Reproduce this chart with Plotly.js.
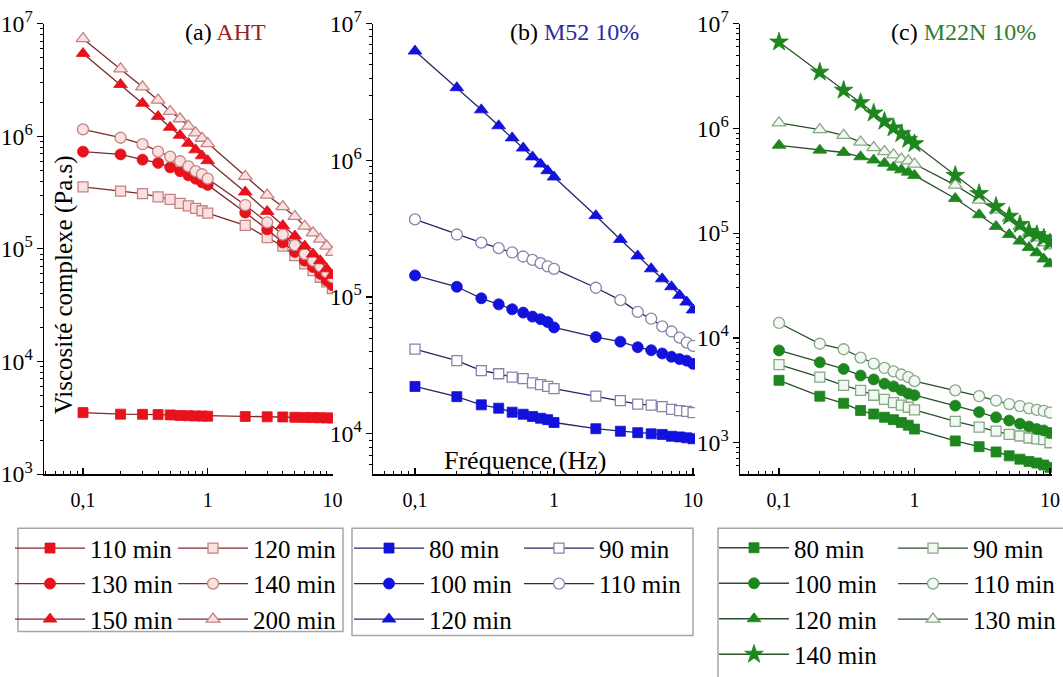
<!DOCTYPE html>
<html>
<head>
<meta charset="utf-8">
<script src="https://cdn.plot.ly/plotly-3.0.1.min.js"></script>
<style>html,body{margin:0;padding:0;background:#fff;}#chart{width:1063px;height:677px;}</style>
</head>
<body>
<div id="chart"></div>
<script>
// Frequency (Hz)
const freq = [0.1,0.2,0.3,0.4,0.5,0.6,0.7,0.8,0.9,1,2,3,4,5,6,7,8,9,10];

// (a) AHT — complex viscosity (Pa.s)
const aht110 = [3520,3410,3400,3380,3360,3320,3300,3290,3280,3270,3250,3230,3220,3200,3190,3180,3170,3160,3150];
const aht120 = [3.55e5,3.26e5,3.10e5,2.90e5,2.75e5,2.54e5,2.41e5,2.29e5,2.18e5,2.08e5,1.62e5,1.26e5,1.06e5,8.7e4,7.35e4,6.4e4,5.6e4,5.1e4,4.45e4];
const aht130 = [7.3e5,6.9e5,6.2e5,5.8e5,5.3e5,4.9e5,4.5e5,4.2e5,3.9e5,3.7e5,2.1e5,1.49e5,1.14e5,9.4e4,7.86e4,6.9e4,6.0e4,5.25e4,4.75e4];
const aht140 = [1.15e6,9.7e5,8.5e5,7.3e5,6.6e5,6.0e5,5.4e5,4.9e5,4.6e5,4.2e5,2.45e5,1.72e5,1.34e5,1.08e5,9.0e4,7.86e4,7.0e4,6.2e4,5.6e4];
const aht150 = [5.43e6,2.88e6,1.96e6,1.5e6,1.2e6,1.02e6,8.65e5,7.57e5,6.7e5,6.07e5,3.2e5,2.15e5,1.61e5,1.3e5,1.06e5,9.0e4,7.85e4,6.65e4,5.8e4];
const aht200 = [7.35e6,3.96e6,2.74e6,2.09e6,1.66e6,1.43e6,1.23e6,1.07e6,9.6e5,8.6e5,4.4e5,3.0e5,2.37e5,1.94e5,1.59e5,1.39e5,1.22e5,1.06e5,9.3e4];

// (b) M52 10%
const m52_80  = [2.22e4,1.87e4,1.63e4,1.54e4,1.44e4,1.39e4,1.34e4,1.30e4,1.27e4,1.21e4,1.09e4,1.045e4,1.02e4,1.0e4,9900,9600,9500,9350,9200];
const m52_90  = [4.16e4,3.43e4,2.9e4,2.75e4,2.6e4,2.53e4,2.36e4,2.29e4,2.22e4,2.14e4,1.89e4,1.75e4,1.65e4,1.62e4,1.58e4,1.51e4,1.48e4,1.46e4,1.43e4];
const m52_100 = [1.44e5,1.19e5,9.8e4,8.85e4,8.15e4,7.7e4,7.2e4,6.9e4,6.57e4,6.0e4,5.1e4,4.72e4,4.3e4,4.09e4,3.87e4,3.66e4,3.52e4,3.43e4,3.25e4];
const m52_110 = [3.7e5,2.87e5,2.5e5,2.28e5,2.12e5,1.98e5,1.87e5,1.77e5,1.68e5,1.61e5,1.17e5,9.5e4,7.8e4,6.95e4,6.1e4,5.6e4,5.05e4,4.65e4,4.4e4];
const m52_120 = [6.3e6,3.4e6,2.34e6,1.79e6,1.46e6,1.23e6,1.06e6,9.4e5,8.4e5,7.55e5,3.94e5,2.64e5,2.0e5,1.61e5,1.36e5,1.19e5,1.03e5,9.2e4,8.05e4];

// (c) M22N 10%
const m22_80  = [3940,2780,2380,2030,1880,1750,1660,1560,1470,1350,1040,917,817,750,697,663,640,613,582];
const m22_90  = [5560,4230,3520,3160,2840,2590,2410,2290,2180,2060,1600,1410,1290,1200,1160,1110,1090,1070,1000];
const m22_100 = [7600,5850,5060,4380,4020,3660,3450,3170,2940,2840,2260,1960,1750,1630,1520,1430,1350,1310,1240];
const m22_110 = [13900,8800,7800,6500,5700,5170,4800,4480,4230,3870,3160,2780,2520,2340,2240,2130,2060,2010,1940];
const m22_120 = [6.9e5,6.2e5,5.89e5,5.36e5,4.99e5,4.64e5,4.26e5,4.02e5,3.82e5,3.56e5,2.14e5,1.5e5,1.16e5,9.7e4,8.4e4,7.3e4,6.5e4,5.66e4,5.1e4];
const m22_130 = [1.13e6,9.75e5,8.57e5,7.4e5,6.56e5,6.0e5,5.6e5,5.1e5,4.9e5,4.57e5,2.87e5,2.07e5,1.67e5,1.39e5,1.16e5,1.0e5,9.0e4,8.1e4,7.55e4];
const m22_140 = [6.67e6,3.44e6,2.31e6,1.76e6,1.4e6,1.17e6,1.01e6,8.9e5,7.85e5,7.15e5,3.56e5,2.39e5,1.8e5,1.45e5,1.21e5,1.04e5,9.7e4,9.0e4,8.1e4];

const W = 1063, H = 677;
const px = v => v / W;
const py = v => 1 - v / H;

const pal = {
  a: {line:'#7d2a2a', fill:'#e8121c', ofill:'#fbe0e0', oline:'#c48282'},
  b: {line:'#262668', fill:'#1212dc', ofill:'#ffffff', oline:'#8585aa'},
  c: {line:'#2c4f2c', fill:'#1d861d', ofill:'#f2f8f2', oline:'#86a886'}
};

function tr(y, name, panel, sym, open, leg, size) {
  const c = pal[panel];
  const ax = {a:['x','y'], b:['x2','y2'], c:['x3','y3']}[panel];
  return {
    x: freq, y: y, name: name, type: 'scatter', mode: 'lines+markers',
    xaxis: ax[0], yaxis: ax[1], legend: leg,
    line: {color: c.line, width: 1.3},
    marker: {symbol: sym, size: size,
      color: open ? c.ofill : c.fill,
      line: {color: open ? c.oline : c.fill, width: open ? 1.3 : 0.8}}
  };
}

const data = [
  tr(aht110,'110 min','a','square',false,'legend',10),
  tr(aht120,'120 min','a','square',true,'legend2',10),
  tr(aht130,'130 min','a','circle',false,'legend',11),
  tr(aht140,'140 min','a','circle',true,'legend2',11),
  tr(aht150,'150 min','a','triangle-up',false,'legend',12),
  tr(aht200,'200 min','a','triangle-up',true,'legend2',12),

  tr(m52_80,'80 min','b','square',false,'legend3',10),
  tr(m52_90,'90 min','b','square',true,'legend4',10),
  tr(m52_100,'100 min','b','circle',false,'legend3',11),
  tr(m52_110,'110 min','b','circle',true,'legend4',11),
  tr(m52_120,'120 min','b','triangle-up',false,'legend3',12),

  tr(m22_80,'80 min','c','square',false,'legend5',10),
  tr(m22_90,'90 min','c','square',true,'legend6',10),
  tr(m22_100,'100 min','c','circle',false,'legend5',11),
  tr(m22_110,'110 min','c','circle',true,'legend6',11),
  tr(m22_120,'120 min','c','triangle-up',false,'legend5',12),
  tr(m22_130,'130 min','c','triangle-up',true,'legend6',12),
  tr(m22_140,'140 min','c','star',false,'legend5',14)
];

const serif = '"Liberation Serif", "Times New Roman", serif';
const ydom = [py(482), py(24)];

function xax(x0, x1, r0, r1, anchor) {
  return {domain:[px(x0), px(x1)], type:'log', range:[r0, r1], anchor: anchor,
    showline:true, linecolor:'#000', linewidth:1.5, showgrid:false, zeroline:false, mirror:false,
    tickmode:'linear', tick0:0, dtick:1, exponentformat:'none',
    ticks:'inside', ticklen:6, tickwidth:1.2, tickcolor:'#000',
    minor:{ticks:'inside', ticklen:3, tickwidth:1, tickcolor:'#000', dtick:'D1', showgrid:false},
    tickfont:{family:serif, size:20, color:'#000'}, ticklabelstandoff:7};
}
function yax(r0, anchor) {
  return {domain: ydom, type:'log', range:[r0, 7], anchor: anchor,
    showline:true, linecolor:'#000', linewidth:1.5, showgrid:false, zeroline:false, mirror:false,
    tickmode:'linear', tick0:0, dtick:1, exponentformat:'power',
    ticks:'outside', ticklen:6, tickwidth:1.2, tickcolor:'#000',
    minor:{ticks:'outside', ticklen:3, tickwidth:1, tickcolor:'#000', dtick:'D1', showgrid:false},
    tickfont:{family:serif, size:19, color:'#000'}};
}

function leg(xText, yTop) {
  return {x: px(xText - 80), y: py(yTop), xanchor:'left', yanchor:'top',
    bgcolor:'rgba(0,0,0,0)', borderwidth:0, itemwidth:70, traceorder:'normal',
    font:{family:serif, size:25, color:'#000'}, itemclick:false, itemdoubleclick:false};
}

const layout = {
  width: W, height: H,
  margin: {l:0, r:0, t:0, b:0},
  paper_bgcolor:'#fff', plot_bgcolor:'rgba(0,0,0,0)',
  separators: ', ',
  font: {family: serif, size: 20, color:'#000'},
  xaxis:  xax(44, 333, -1.313, 1.005, 'y'),
  yaxis:  yax(3, 'x'),
  xaxis2: xax(373, 695, -1.302, 1.014, 'y2'),
  yaxis2: yax(3.705, 'x2'),
  xaxis3: xax(740, 1052, -1.288, 1.015, 'y3'),
  yaxis3: yax(2.7, 'x3'),
  legend:  leg(90, 534),
  legend2: leg(253, 534),
  legend3: leg(429, 534),
  legend4: leg(599, 534),
  legend5: leg(794, 534),
  legend6: leg(973, 534),
  shapes: [
    {type:'rect', xref:'paper', yref:'paper', x0:px(18), x1:px(343), y0:py(642), y1:py(537), line:{color:'#a6a6a6', width:1.5}},
    {type:'rect', xref:'paper', yref:'paper', x0:px(352), x1:px(693), y0:py(646), y1:py(537), line:{color:'#a6a6a6', width:1.5}},
    {type:'rect', xref:'paper', yref:'paper', x0:px(718), x1:1.02, y0:-0.05, y1:py(537), line:{color:'#a6a6a6', width:1.5}}
  ],
  annotations: [
    {xref:'paper', yref:'paper', x:px(225), y:py(33), xanchor:'center', yanchor:'middle', showarrow:false,
     text:'(a) <span style="color:#a11d24">AHT</span>', font:{family:serif, size:24, color:'#000'}},
    {xref:'paper', yref:'paper', x:px(574), y:py(33), xanchor:'center', yanchor:'middle', showarrow:false,
     text:'(b) <span style="color:#2b2b9e">M52 10%</span>', font:{family:serif, size:24, color:'#000'}},
    {xref:'paper', yref:'paper', x:px(963), y:py(33), xanchor:'center', yanchor:'middle', showarrow:false,
     text:'(c) <span style="color:#2e7d32">M22N 10%</span>', font:{family:serif, size:24, color:'#000'}},
    {xref:'paper', yref:'paper', x:px(64), y:py(290), xanchor:'center', yanchor:'middle', showarrow:false,
     textangle:-90, text:'Viscosité complexe (Pa.s)', font:{family:serif, size:25, color:'#000'}},
    {xref:'paper', yref:'paper', x:px(525), y:py(468), xanchor:'center', yanchor:'middle', showarrow:false,
     text:'Fréquence (Hz)', font:{family:serif, size:26, color:'#000'}}
  ]
};

Plotly.newPlot('chart', data, layout, {displayModeBar:false, staticPlot:true});
</script>
</body>
</html>
